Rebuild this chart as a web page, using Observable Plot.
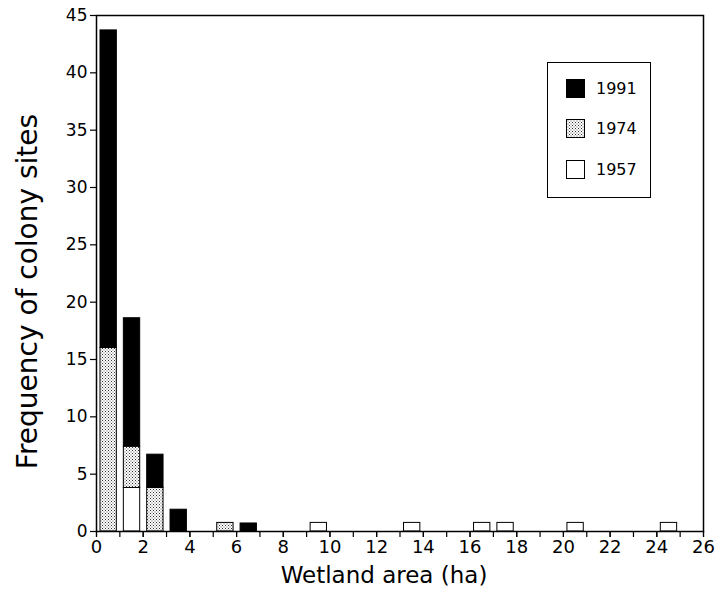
<!DOCTYPE html>
<html>
<head>
<meta charset="utf-8">
<script src="https://cdn.jsdelivr.net/npm/d3@7"></script>
<script src="https://cdn.jsdelivr.net/npm/@observablehq/plot@0.6"></script>
<style>
  html, body { margin: 0; padding: 0; background: white; }
  #wrap { position: relative; width: 717px; height: 609px; }
  #wrap svg g[aria-label*="x-axis"] text { font-size: 18px !important; }
  #wrap svg g[aria-label*="y-axis"] text { font-size: 17px !important; }
  #legend { position: absolute; left: 547px; top: 62px; width: 102px; height: 134px;
    border: 1.5px solid black; background: white; font-family: "DejaVu Sans", sans-serif; font-size: 16px; }
  .item { position: absolute; left: 18px; height: 19px; line-height: 19px; display: flex; align-items: center; }
  .item svg { margin-right: 11px; display: block; }
</style>
</head>
<body>
<div id="wrap"></div>
<script>
// Data (bin start in ha, frequency)
const years = ["1991", "1974", "1957"];
const bins1957 = [1, 9, 13, 16, 17, 20, 24];
const vals1957 = [3.8, 0.75, 0.75, 0.75, 0.75, 0.75, 0.75];
const bins1974 = [0, 1, 2, 5];
const vals1974 = [16, 3.6, 3.8, 0.75];
const bins1991 = [0, 1, 2, 3, 6];
const vals1991 = [27.7, 11.2, 2.9, 1.9, 0.7];
const xTicksMajor = d3.range(0, 27, 2);
const xTicksMinor = d3.range(0, 27, 1);
const yTicks = d3.range(0, 46, 5);

const rows = [];
bins1957.forEach((b, i) => rows.push({x1: b, x2: b + 1, y: vals1957[i], year: "1957"}));
bins1974.forEach((b, i) => rows.push({x1: b, x2: b + 1, y: vals1974[i], year: "1974"}));
bins1991.forEach((b, i) => rows.push({x1: b, x2: b + 1, y: vals1991[i], year: "1991"}));

const fills = ["black", "url(#stipple)", "white"];

const chart = Plot.plot({
  width: 717, height: 609,
  marginLeft: 96, marginRight: 14, marginTop: 15, marginBottom: 78,
  style: {fontFamily: "DejaVu Sans, sans-serif", fontSize: "16px", color: "black", background: "white"},
  x: {domain: [0, 26]},
  y: {domain: [0, 45]},
  color: {type: "ordinal", domain: years, range: fills},
  marks: [
    Plot.rectY(rows, Plot.stackY({x1: "x1", x2: "x2", y: "y", fill: "year",
      order: ["1957", "1974", "1991"], stroke: "black", strokeWidth: 1, insetLeft: 4, insetRight: 3})),
    Plot.frame({stroke: "black", strokeWidth: 1.5}),
    Plot.axisX({ticks: xTicksMinor, tickSize: 6, tickFormat: () => "", label: null, strokeWidth: 1.2}),
    Plot.axisX({ticks: xTicksMajor, tickSize: 6, tickPadding: 3, label: null, strokeWidth: 1.2}),
    Plot.axisY({ticks: yTicks, tickSize: 6, tickPadding: 3, label: null, strokeWidth: 1.2}),
    Plot.text(["Wetland area (ha)"], {frameAnchor: "bottom", dy: 51, dx: -16, fontSize: 23}),
    Plot.text(["Frequency of colony sites"], {frameAnchor: "left", textAnchor: "middle", rotate: -90, dx: -68, dy: 18, fontSize: 28})
  ]
});

// stipple pattern
const ns = "http://www.w3.org/2000/svg";
const defs = document.createElementNS(ns, "defs");
defs.innerHTML = `<pattern id="stipple" width="3" height="3" patternUnits="userSpaceOnUse">
  <rect width="3" height="3" fill="white"/>
  <rect x="0" y="0" width="1" height="1" fill="#333"/>
  <rect x="1.5" y="1.5" width="1" height="1" fill="#555"/>
</pattern>`;
chart.insertBefore(defs, chart.firstChild);

const wrap = document.getElementById("wrap");
wrap.appendChild(chart);

// legend
const legend = document.createElement("div");
legend.id = "legend";
const tops = [16, 56, 97];
years.forEach((y, i) => {
  const item = document.createElement("div");
  item.className = "item";
  item.style.top = tops[i] + "px";
  item.innerHTML = `<svg width="19" height="19"><rect x="0.5" y="0.5" width="18" height="18" fill="${fills[i]}" stroke="black" stroke-width="1"/></svg><span>${y}</span>`;
  legend.appendChild(item);
});
wrap.appendChild(legend);
</script>
</body>
</html>
